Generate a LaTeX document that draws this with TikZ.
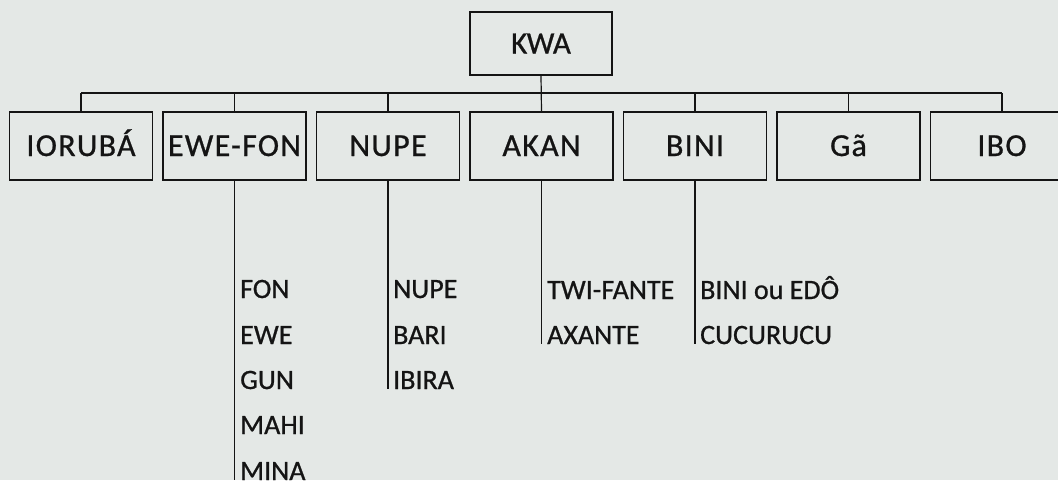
\documentclass[tikz,border=0pt]{standalone}
\usepackage{fontspec}
\setmainfont{Carlito}[FakeBold=0.8]
\definecolor{paper}{HTML}{E4E8E6}
\definecolor{ink}{HTML}{141414}

\begin{document}
\begin{tikzpicture}[x=1pt, y=-1pt]
			\tikzstyle{group} = [rectangle, minimum width=143pt, minimum height=68pt, inner sep=0pt, draw=ink, line width=1.3pt, text=ink, text height=20pt, text depth=0pt, font=\fontsize{32}{32}\selectfont\addfontfeature{LetterSpace=4}]
			\tikzstyle{lang}  = [anchor=base west, inner sep=0pt, text=ink, font=\fontsize{28}{28}\selectfont]
			\tikzstyle{link}  = [draw=ink, line width=1.2pt]

			\fill[paper] (0,0) rectangle (1058,480);
			\useasboundingbox (0,0) rectangle (1058,480);

			\node[group, minimum width=142pt, minimum height=63pt, font=\fontsize{31}{31}\selectfont] (kwa) at (541, 43.5) {KWA};

			\foreach \name/\lbl/\x in {ior/IORUBÁ/81, ewe/EWE-FON/234.5, nup/NUPE/388, aka/AKAN/541.5, bin/BINI/695, ga/Gã/848.5, ibo/IBO/1002}
				\node[group] (\name) at (\x, 146) {\lbl};

			\coordinate (bus) at (0, 93);
			\path[link] (ior.north |- bus) -- (ibo.north |- bus);
			\path[link] (kwa.south) -- (aka.north);
			\foreach \to in {ior, ewe, nup, bin, ga, ibo}
				\path[link] (\to.north |- bus) -- (\to.north);

%			sub-languages
			\foreach \name/\lbl/\x/\y in {fon/FON/240/298, ewe2/EWE/240/344, gun/GUN/240/389, mahi/MAHI/240/434, mina/MINA/240/480,
				nupe2/NUPE/393/298, bari/BARI/393/344, ibira/IBIRA/393/389,
				twi/TWI-FANTE/547/299, axante/AXANTE/547/344,
				edo/BINI ou EDÔ/700/299, cucu/CUCURUCU/700/344}
				\node[lang] (\name) at (\x, \y) {\lbl};

			\foreach \from/\to in {ewe/mina, nup/ibira, aka/axante, bin/cucu}
				\path[link] (\from.south) -- (\from.south |- \to.base);

		\end{tikzpicture}
\end{document}
